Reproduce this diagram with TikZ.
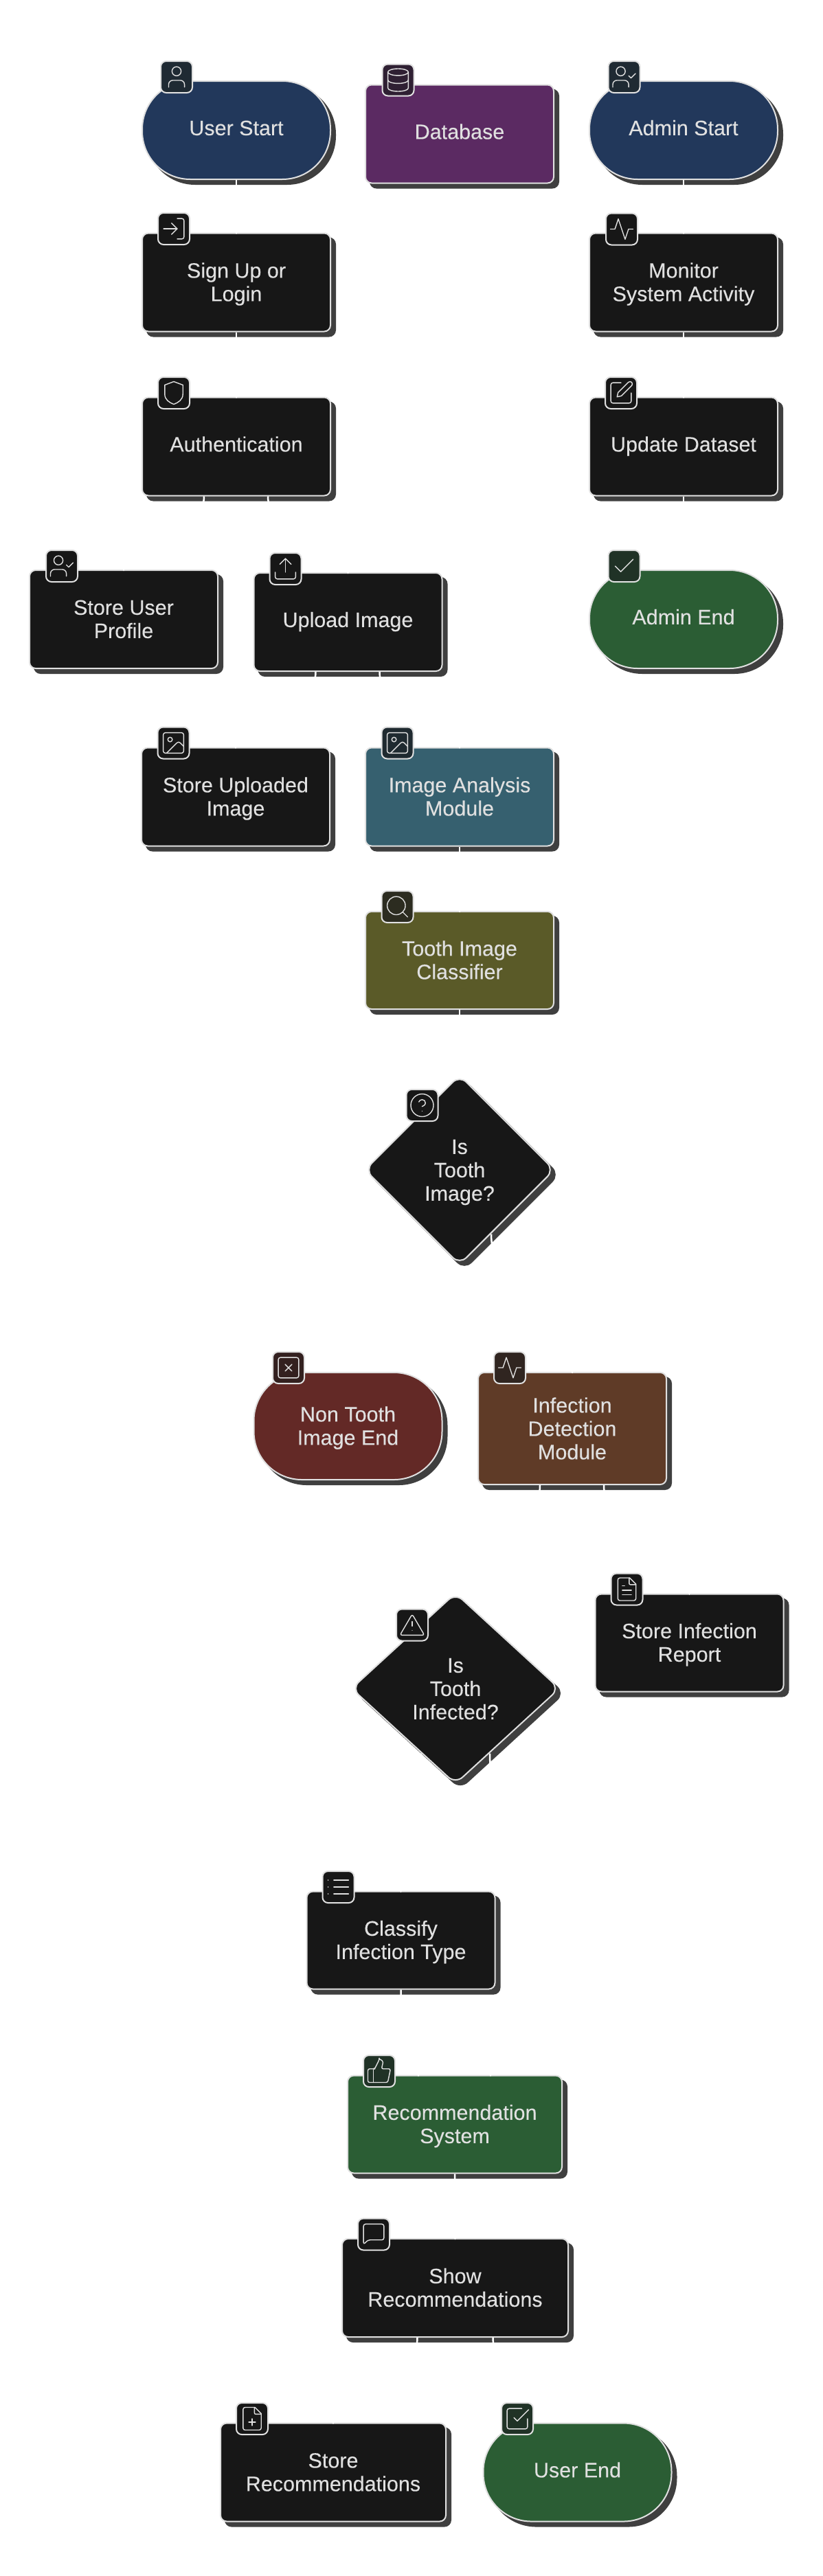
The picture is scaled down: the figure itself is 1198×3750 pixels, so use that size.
\documentclass[tikz,border=0pt]{standalone}
\usepackage{fontspec}
\setmainfont{Liberation Sans}[FakeBold=0.15]
\usetikzlibrary{shadows,shapes.geometric,arrows.meta}
\definecolor{edgec}{HTML}{E0E0E0}
\definecolor{shc}{HTML}{3F3F3F}
\definecolor{blk}{HTML}{171717}
\definecolor{navy}{HTML}{22385B}
\definecolor{purp}{HTML}{5B2A62}
\definecolor{grn}{HTML}{2B5D34}
\definecolor{teal2}{HTML}{36606F}
\definecolor{oliv}{HTML}{5A5A28}
\definecolor{redd}{HTML}{632926}
\definecolor{brwn}{HTML}{5F3B27}
\definecolor{bNavy}{HTML}{1F2A33}
\definecolor{bPurp}{HTML}{2F2033}
\definecolor{bGrn}{HTML}{203226}
\definecolor{bTeal}{HTML}{1F2A30}
\definecolor{bOliv}{HTML}{2C2C20}
\definecolor{bRed}{HTML}{33201F}
\definecolor{bBrwn}{HTML}{302520}
\tikzset{
  sh/.style={general shadow={shadow xshift=7pt,shadow yshift=-7pt,fill=shc,draw=shc}},
  nodebase/.style={draw=edgec,line width=2pt,text=edgec,align=center,
    font=\fontsize{30.5}{34}\selectfont,sh},
  boxn/.style n args={3}{nodebase,rectangle,rounded corners=9pt,fill=#1,minimum width=#2pt,minimum height=#3pt},
  pill/.style n args={3}{nodebase,rectangle,rounded corners=70pt,fill=#1,minimum width=#2pt,minimum height=#3pt},
  dia/.style n args={2}{nodebase,diamond,rounded corners=14pt,fill=blk,inner sep=0pt,minimum width=#1pt,minimum height=#2pt},
  lone/.style={text height=20pt,text depth=5.2pt},
  ltwo/.style={text height=60pt,text depth=5.2pt},
  lthree/.style={text height=95pt,text depth=5.2pt},
  bdg/.style={draw=edgec,line width=2pt,rectangle,rounded corners=8pt,fill=#1,minimum size=46pt,inner sep=0pt},
  ic/.style={draw=edgec,line width=1.4pt,line cap=round,line join=round},
  cn/.style={draw=white,line width=2.5pt,-{Stealth[length=9pt,width=9pt]},shorten >=-2.5pt},
  cnflat/.style={draw=white,line width=2.5pt,-{Stealth[length=9pt,width=9pt]}},
}
\newcommand\icn[2]{\begin{scope}[shift={(#1.center)},x=1.65pt,y=-1.65pt,shift={(-12,-12)}]#2\end{scope}}
\newcommand\IcUser{\draw[ic] (12,7) circle[radius=4];\draw[ic,rounded corners=6pt] (5,21)--(5,15)--(19,15)--(19,21);}
\newcommand\IcUserCheck{\draw[ic] (9,7) circle[radius=4];\draw[ic,rounded corners=6pt] (2,21)--(2,15)--(16,15)--(16,21);\draw[ic] (16,11)--(18,13)--(22,9);}
\newcommand\IcDb{\draw[ic] (12,5) ellipse[x radius=9,y radius=3];
 \draw[ic] (3,5)--(3,19) .. controls (3,20.7) and (7,22) .. (12,22) .. controls (17,22) and (21,20.7) .. (21,19)--(21,5);
 \draw[ic] (3,12) .. controls (3,13.7) and (7,15) .. (12,15) .. controls (17,15) and (21,13.7) .. (21,12);}
\newcommand\IcLogin{\draw[ic,rounded corners=3pt] (15,3)--(21,3)--(21,21)--(15,21);\draw[ic] (10,7)--(15,12)--(10,17);\draw[ic] (15,12)--(3,12);}
\newcommand\IcShield{\draw[ic] (12,2)--(20,5)--(20,13) .. controls (20,18) and (16,20.5) .. (12,22) .. controls (8,20.5) and (4,18) .. (4,13)--(4,5)--cycle;}
\newcommand\IcPulse{\draw[ic] (2,12)--(6,12)--(9,3)--(15,21)--(18,12)--(22,12);}
\newcommand\IcEdit{\draw[ic,rounded corners=3pt] (12,3)--(3,3)--(3,21)--(21,21)--(21,12);
 \draw[ic] (18.4,2.6) .. controls (19.2,1.8) and (20.6,1.8) .. (21.4,2.6) .. controls (22.2,3.4) and (22.2,4.8) .. (21.4,5.6)--(12.4,14.6)--(8.5,15.5)--(9.4,11.6)--cycle;}
\newcommand\IcUpload{\draw[ic,rounded corners=3pt] (21,15)--(21,21)--(3,21)--(3,15);\draw[ic] (17,8)--(12,3)--(7,8);\draw[ic] (12,3)--(12,15);}
\newcommand\IcCheck{\draw[ic] (20,6)--(9,17)--(4,12);}
\newcommand\IcImage{\draw[ic,rounded corners=3pt] (3,3) rectangle (21,21);\draw[ic] (9,9) circle[radius=2];
 \draw[ic] (21,15)--(17.9,11.9) .. controls (17.1,11.1) and (15.9,11.1) .. (15.1,11.9)--(6,21);}
\newcommand\IcSearch{\draw[ic] (11,11) circle[radius=8];\draw[ic] (21,21)--(16.65,16.65);}
\newcommand\IcHelp{\draw[ic] (12,12) circle[radius=10];
 \draw[ic] (9.09,9) .. controls (9.5,7.8) and (10.7,7) .. (12,7) .. controls (13.7,7) and (15,8.3) .. (14.92,10) .. controls (14.92,12) and (11.92,13) .. (11.92,13);
 \draw[ic] (12,17)--(12.01,17);}
\newcommand\IcX{\draw[ic,rounded corners=3pt] (3,3) rectangle (21,21);\draw[ic] (9,9)--(15,15);\draw[ic] (15,9)--(9,15);}
\newcommand\IcAlert{\draw[ic,rounded corners=3pt] (12,2.5)--(22.8,21)--(1.2,21)--cycle;\draw[ic] (12,9)--(12,13);\draw[ic] (12,17)--(12.01,17);}
\newcommand\IcFileBody{\draw[ic,rounded corners=3pt] (14.5,2)--(4,2)--(4,22)--(20,22)--(20,7.5);\draw[ic] (14.5,2)--(20,7.5);\draw[ic,rounded corners=2pt] (14,2)--(14,8)--(20,8);}
\newcommand\IcFileText{\IcFileBody\draw[ic] (10,9)--(8,9);\draw[ic] (16,13)--(8,13);\draw[ic] (16,17)--(8,17);}
\newcommand\IcFilePlus{\IcFileBody\draw[ic] (12,18)--(12,12);\draw[ic] (9,15)--(15,15);}
\newcommand\IcList{\draw[ic] (8,6)--(21,6);\draw[ic] (8,12)--(21,12);\draw[ic] (8,18)--(21,18);\draw[ic] (3,6)--(3.01,6);\draw[ic] (3,12)--(3.01,12);\draw[ic] (3,18)--(3.01,18);}
\newcommand\IcThumb{\draw[ic] (7,10)--(7,22);\draw[ic,rounded corners=2.5pt] (12,2)--(8.5,9)--(8,10)--(2,10)--(2,22)--(19.5,22)--(22,10)--(14,10)--(15,5.88) .. controls (15.5,3.5) and (14,2) .. (12,2)--cycle;}
\newcommand\IcChat{\draw[ic,rounded corners=3pt] (3,21)--(3,3)--(21,3)--(21,17)--(7,17)--cycle;}
\newcommand\IcCheckBox{\draw[ic] (9,11)--(12,14)--(22,4);\draw[ic,rounded corners=3pt] (21,12)--(21,21)--(3,21)--(3,3)--(16,3);}
\begin{document}
\begin{tikzpicture}[x=1pt,y=-1pt]
\useasboundingbox (1,0) rectangle (1199,3750);
\fill[white] (1,0) rectangle (1199,3750);
% nodes
\node[pill={navy}{274}{143},lone] (uStart) at (345,189.5) {User Start};
\node[boxn={purp}{274}{143},lone] (db) at (670,195) {Database};
\node[pill={navy}{274}{143},lone] (aStart) at (996,189.5) {Admin Start};
\node[boxn={blk}{274}{143},ltwo] (signup) at (345,411) {Sign Up or\\Login};
\node[boxn={blk}{274}{143},ltwo] (monitor) at (996,411) {Monitor\\System Activity};
\node[boxn={blk}{274}{143},lone] (auth) at (345,650) {Authentication};
\node[boxn={blk}{274}{143},lone] (update) at (996,650) {Update Dataset};
\node[boxn={blk}{274}{143},ltwo] (storeUser) at (181,901.5) {Store User\\Profile};
\node[boxn={blk}{274}{143},lone] (upload) at (507.5,905.5) {Upload Image};
\node[pill={grn}{274}{143},lone] (aEnd) at (996,901.5) {Admin End};
\node[boxn={blk}{274}{143},ltwo] (storeImg) at (344,1160) {Store Uploaded\\Image};
\node[boxn={teal2}{274}{143},ltwo] (analysis) at (670,1160) {Image Analysis\\Module};
\node[boxn={oliv}{274}{142},ltwo] (classifier) at (670,1398) {Tooth Image\\Classifier};
\node[dia={276}{276},lthree] (qTooth) at (670,1703) {Is\\Tooth\\Image?};
\node[pill={redd}{274}{156},ltwo] (nonTooth) at (507.5,2076) {Non Tooth\\Image End};
\node[boxn={brwn}{274}{163},lthree] (detect) at (834,2079.5) {Infection\\Detection\\Module};
\node[dia={303}{278},lthree] (qInfect) at (664,2458) {Is\\Tooth\\Infected?};
\node[boxn={blk}{274}{142},ltwo] (report) at (1004.5,2391.5) {Store Infection\\Report};
\node[boxn={blk}{274}{142},ltwo] (classify) at (584.5,2824.5) {Classify\\Infection Type};
\node[boxn={grn}{312}{142},ltwo] (recom) at (663,3092.5) {Recommendation\\System};
\node[boxn={blk}{329}{143},ltwo] (show) at (663.5,3330.5) {Show\\Recommendations};
\node[boxn={blk}{328}{143},ltwo] (storeRec) at (486,3599) {Store\\Recommendations};
\node[pill={grn}{274}{143},lone] (uEnd) at (841.5,3599) {User End};
% routing points
\coordinate (routeA) at (752,2740);
\coordinate (routeB) at (752,2930);
% connectors (white, seen only where they cross shadows and borders)
\draw[cn] (uStart.south) -- (signup.north);
\draw[cn] (aStart.south) -- (monitor.north);
\draw[cn] (signup.south) -- (auth.north);
\draw[cn] (monitor.south) -- (update.north);
\draw[cnflat] (update.south) -- (aEnd.north);
\draw[cn] ([xshift=-47pt]auth.south) to[out=-90,in=90] (storeUser.north);
\draw[cn] ([xshift=46pt]auth.south) to[out=-90,in=90] (upload.north);
\draw[cn] ([xshift=-47pt]upload.south) to[out=-90,in=90] (storeImg.north);
\draw[cn] ([xshift=46pt]upload.south) to[out=-90,in=90] (analysis.north);
\draw[cn] (analysis.south) -- (classifier.north);
\draw[cnflat] (classifier.south) -- (qTooth.north);
\draw[cnflat] ([xshift=-46pt,yshift=-93.5pt]qTooth.center) to[out=-90,in=90] (nonTooth.north);
\draw[cn] ([xshift=46pt,yshift=-93.5pt]qTooth.center) to[out=-90,in=90] (detect.north);
\draw[cnflat] ([xshift=-47pt]detect.south) to[out=-90,in=90] (qInfect.north);
\draw[cn] ([xshift=46pt]detect.south) to[out=-90,in=90] (report.north);
\draw[cn] ([xshift=-50pt,yshift=-94.5pt]qInfect.center) to[out=-90,in=90] (classify.north);
\draw[cn] ([xshift=50pt,yshift=-94.5pt]qInfect.center) to[out=-90,in=90] (routeA) -- (routeB) to[out=-90,in=90] ([xshift=52pt]recom.north);
\draw[cn] (classify.south) to[out=-90,in=90] ([xshift=-53pt]recom.north);
\draw[cn] (recom.south) -- (show.north);
\draw[cn] ([xshift=-55pt]show.south) to[out=-90,in=90] (storeRec.north);
\draw[cnflat] ([xshift=55pt]show.south) to[out=-90,in=90] (uEnd.north);
% badges
\node[bdg=bNavy] (bUS) at (258,112) {}; \icn{bUS}{\IcUser}
\node[bdg=bPurp] (bDB) at (580.5,116.5) {}; \icn{bDB}{\IcDb}
\node[bdg=bNavy] (bAS) at (909.5,112) {}; \icn{bAS}{\IcUserCheck}
\node[bdg=blk] (bSU) at (254,333) {}; \icn{bSU}{\IcLogin}
\node[bdg=blk] (bMO) at (906,333.5) {}; \icn{bMO}{\IcPulse}
\node[bdg=blk] (bAU) at (254,572) {}; \icn{bAU}{\IcShield}
\node[bdg=blk] (bUD) at (905,572) {}; \icn{bUD}{\IcEdit}
\node[bdg=blk] (bSP) at (91,824) {}; \icn{bSP}{\IcUserCheck}
\node[bdg=blk] (bUP) at (416.5,828) {}; \icn{bUP}{\IcUpload}
\node[bdg=bGrn] (bAE) at (909.5,824) {}; \icn{bAE}{\IcCheck}
\node[bdg=blk] (bSI) at (253.5,1081.5) {}; \icn{bSI}{\IcImage}
\node[bdg=bTeal] (bIA) at (579.5,1081.5) {}; \icn{bIA}{\IcImage}
\node[bdg=bOliv] (bTC) at (579.5,1320) {}; \icn{bTC}{\IcSearch}
\node[bdg=blk] (bQT) at (615.5,1609) {}; \icn{bQT}{\IcHelp}
\node[bdg=bRed] (bNT) at (421,1991) {}; \icn{bNT}{\IcX}
\node[bdg=bBrwn] (bID) at (743,1991) {}; \icn{bID}{\IcPulse}
\node[bdg=blk] (bQI) at (601,2365.5) {}; \icn{bQI}{\IcAlert}
\node[bdg=blk] (bRE) at (913.5,2313.5) {}; \icn{bRE}{\IcFileText}
\node[bdg=blk] (bCL) at (493.5,2747) {}; \icn{bCL}{\IcList}
\node[bdg=bGrn] (bRC) at (553,3015) {}; \icn{bRC}{\IcThumb}
\node[bdg=blk] (bSH) at (545,3252.5) {}; \icn{bSH}{\IcChat}
\node[bdg=blk] (bSR) at (368,3521) {}; \icn{bSR}{\IcFilePlus}
\node[bdg=bGrn] (bUE) at (754,3521) {}; \icn{bUE}{\IcCheckBox}
\end{tikzpicture}
\end{document}
